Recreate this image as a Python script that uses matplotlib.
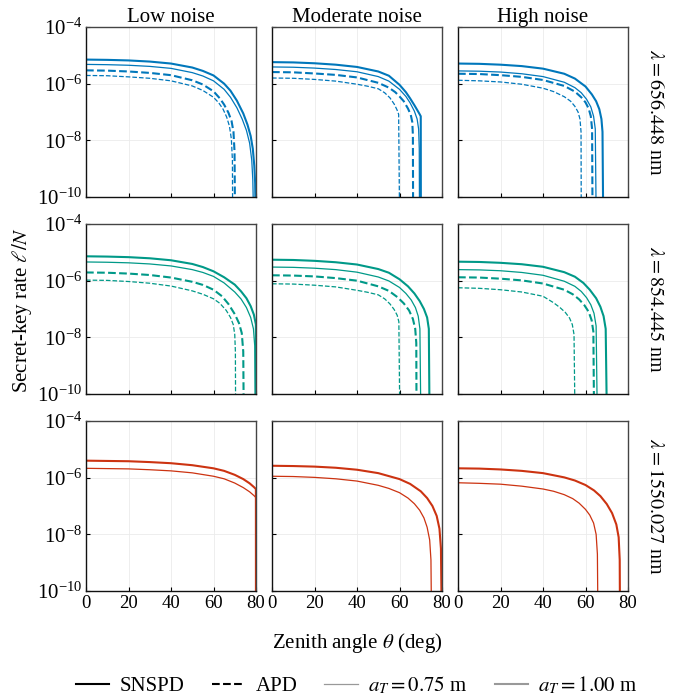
import matplotlib.pyplot as plt
from matplotlib.lines import Line2D
import numpy as np

plt.rcParams['font.family'] = ['Liberation Serif', 'DejaVu Serif']
plt.rcParams['mathtext.fontset'] = 'stix'

noise_levels = ['Low noise', 'Moderate noise', 'High noise']
wavelengths = ['656.448', '854.445', '1550.027']
colors = ['#0077BB', '#009988', '#CC3311']

# every curve: (zenith angle in deg, log10 of secret-key rate l/N)
# s = SNSPD, a = APD, 100 / 075 = telescope radius a_T

# --- 656.448 nm ---
s100_656_low = ([0, 10, 20, 30, 40, 50, 55, 60, 65, 68, 71, 74, 76, 77.5, 78.5, 79.2, 79.6, 79.8],
                [-5.15, -5.16, -5.18, -5.22, -5.29, -5.43, -5.55, -5.71, -6.00, -6.25, -6.60, -7.05, -7.45, -7.85, -8.3, -8.9, -9.5, -10.5])
s075_656_low = ([0, 10, 20, 30, 40, 50, 55, 60, 65, 68, 71, 73.5, 75.5, 77, 78, 78.5, 78.8],
                [-5.32, -5.33, -5.35, -5.39, -5.46, -5.61, -5.73, -5.90, -6.20, -6.48, -6.85, -7.25, -7.65, -8.1, -8.7, -9.4, -10.5])
a100_656_low = ([0, 10, 20, 30, 40, 50, 55, 60, 63, 65, 67, 68.5, 69.4, 69.9, 70.1],
                [-5.53, -5.54, -5.57, -5.62, -5.70, -5.88, -6.03, -6.27, -6.52, -6.74, -7.02, -7.32, -7.7, -8.4, -10.5])
a075_656_low = ([0, 10, 20, 30, 40, 50, 55, 60, 62.5, 64.5, 66.2, 67.5, 68.4, 68.9, 69.0],
                [-5.71, -5.72, -5.76, -5.81, -5.90, -6.08, -6.24, -6.48, -6.68, -6.90, -7.18, -7.50, -7.95, -8.7, -10.5])

s100_656_mod = ([0, 10, 20, 30, 40, 50, 55, 60, 63, 65, 67, 68.5, 69.5, 70.0, 70.05],
                [-5.24, -5.25, -5.28, -5.33, -5.41, -5.57, -5.72, -6.04, -6.30, -6.52, -6.76, -6.95, -7.08, -7.15, -10.5])
s075_656_mod = ([0, 10, 20, 30, 40, 50, 55, 60, 63, 65, 67, 68.3, 69.0, 69.3, 69.4],
                [-5.41, -5.42, -5.45, -5.50, -5.58, -5.75, -5.91, -6.20, -6.45, -6.68, -6.97, -7.25, -7.6, -8.3, -10.5])
a100_656_mod = ([0, 10, 20, 30, 40, 50, 55, 58, 60, 62, 64, 65.3, 66.0, 66.3, 66.4],
                [-5.59, -5.60, -5.64, -5.69, -5.78, -5.97, -6.14, -6.30, -6.45, -6.62, -6.88, -7.1, -7.35, -7.8, -10.5])
a075_656_mod = ([0, 10, 20, 30, 40, 45, 50, 53, 55.5, 57.5, 58.8, 59.6, 60.0],
                [-5.80, -5.81, -5.85, -5.91, -6.02, -6.09, -6.18, -6.32, -6.50, -6.72, -6.92, -7.08, -10.5])

s100_656_high = ([0, 10, 20, 30, 40, 50, 55, 60, 63, 65, 66.5, 67.5, 68.0, 68.3],
                 [-5.29, -5.30, -5.33, -5.38, -5.47, -5.65, -5.82, -6.10, -6.38, -6.62, -6.90, -7.25, -7.7, -10.5])
s075_656_high = ([0, 10, 20, 30, 40, 50, 55, 58, 60.5, 62.5, 63.8, 64.6, 65.0],
                 [-5.55, -5.56, -5.59, -5.65, -5.75, -5.95, -6.14, -6.32, -6.55, -6.82, -7.15, -7.6, -10.5])
a100_656_high = ([0, 10, 20, 30, 40, 50, 55, 58, 60, 61.5, 62.5, 63.1, 63.3],
                 [-5.65, -5.66, -5.70, -5.76, -5.87, -6.08, -6.28, -6.48, -6.66, -6.88, -7.15, -7.6, -10.5])
a075_656_high = ([0, 10, 20, 30, 40, 45, 50, 53, 55, 56.5, 57.4, 57.9, 58.0],
                 [-5.88, -5.90, -5.94, -6.02, -6.16, -6.28, -6.46, -6.62, -6.80, -7.0, -7.25, -7.7, -10.5])

# --- 854.445 nm ---
s100_854_low = ([0, 10, 20, 30, 40, 50, 55, 60, 65, 70, 73, 75.5, 77.5, 79, 79.95, 79.97],
                [-5.14, -5.15, -5.17, -5.21, -5.28, -5.41, -5.52, -5.67, -5.88, -6.14, -6.38, -6.62, -6.90, -7.20, -7.55, -10.5])
s075_854_low = ([0, 10, 20, 30, 40, 50, 55, 60, 65, 70, 73, 75.5, 77.5, 78.8, 79.4, 79.6],
                [-5.34, -5.35, -5.37, -5.41, -5.48, -5.61, -5.71, -5.85, -6.08, -6.40, -6.65, -6.95, -7.30, -7.70, -8.3, -10.5])
a100_854_low = ([0, 10, 20, 30, 40, 50, 55, 60, 64, 67, 70, 72, 73.3, 74.0, 74.2],
                [-5.71, -5.72, -5.75, -5.80, -5.89, -6.04, -6.15, -6.32, -6.55, -6.82, -7.18, -7.5, -7.85, -8.5, -10.5])
a075_854_low = ([0, 10, 20, 30, 40, 50, 55, 60, 63, 66, 68, 69.3, 70.0, 70.3, 70.4],
                [-5.98, -5.99, -6.03, -6.09, -6.19, -6.36, -6.48, -6.64, -6.80, -7.05, -7.30, -7.55, -7.9, -8.5, -10.5])

s100_854_mod = ([0, 10, 20, 30, 40, 50, 55, 60, 64, 67, 69.5, 71.5, 73, 73.8, 74.1],
                [-5.26, -5.27, -5.30, -5.35, -5.43, -5.59, -5.72, -5.95, -6.20, -6.45, -6.72, -7.0, -7.3, -7.7, -10.5])
s075_854_mod = ([0, 10, 20, 30, 40, 50, 55, 60, 63, 65.5, 67.5, 68.8, 69.6, 70.0],
                [-5.52, -5.53, -5.56, -5.61, -5.70, -5.87, -6.01, -6.24, -6.45, -6.68, -6.95, -7.25, -7.7, -10.5])
a100_854_mod = ([0, 10, 20, 30, 40, 50, 55, 59, 62, 64.5, 66.3, 67.4, 67.9, 68.0],
                [-5.81, -5.82, -5.85, -5.91, -6.00, -6.20, -6.36, -6.58, -6.80, -7.05, -7.35, -7.7, -8.2, -10.5])
a075_854_mod = ([0, 10, 20, 30, 40, 45, 50, 53, 55.5, 57.5, 58.9, 59.7, 60.1],
                [-6.11, -6.12, -6.16, -6.22, -6.34, -6.41, -6.50, -6.64, -6.82, -7.02, -7.22, -7.45, -10.5])

s100_854_high = ([0, 10, 20, 30, 40, 50, 55, 59, 62, 65, 67, 68.5, 69.5, 70.0],
                 [-5.33, -5.34, -5.37, -5.42, -5.51, -5.70, -5.86, -6.08, -6.32, -6.62, -6.92, -7.25, -7.7, -10.5])
s075_854_high = ([0, 10, 20, 30, 40, 50, 55, 58, 60.5, 62.5, 64, 65, 65.5],
                 [-5.61, -5.62, -5.65, -5.71, -5.81, -6.02, -6.20, -6.38, -6.60, -6.85, -7.15, -7.6, -10.5])
a100_854_high = ([0, 10, 20, 30, 40, 50, 54, 57, 59.5, 61.5, 62.9, 63.7, 64.0],
                 [-5.88, -5.89, -5.93, -5.99, -6.10, -6.32, -6.48, -6.66, -6.87, -7.1, -7.4, -7.8, -10.5])
a075_854_high = ([0, 10, 20, 30, 40, 45, 48, 50.5, 52.5, 53.8, 54.6, 55.0],
                 [-6.25, -6.27, -6.32, -6.40, -6.55, -6.78, -6.95, -7.12, -7.32, -7.55, -7.9, -10.5])

# --- 1550.027 nm (SNSPD only) ---
s100_1550_low = ([0, 10, 20, 30, 40, 50, 60, 65, 70, 74, 77, 79, 79.95, 79.97],
                 [-5.40, -5.41, -5.42, -5.45, -5.49, -5.56, -5.67, -5.76, -5.90, -6.05, -6.20, -6.33, -6.40, -10.5])
s075_1550_low = ([0, 10, 20, 30, 40, 50, 60, 65, 70, 74, 77, 79, 79.95, 79.97],
                 [-5.67, -5.68, -5.69, -5.72, -5.76, -5.83, -5.95, -6.04, -6.19, -6.35, -6.50, -6.63, -6.70, -10.5])
s100_1550_mod = ([0, 10, 20, 30, 40, 50, 60, 65, 70, 73, 75.5, 77.5, 78.8, 79.5, 79.8],
                 [-5.58, -5.59, -5.61, -5.65, -5.72, -5.84, -6.05, -6.22, -6.48, -6.72, -7.0, -7.35, -7.8, -8.5, -10.5])
s075_1550_mod = ([0, 10, 20, 30, 40, 50, 55, 60, 64, 67, 69.5, 71.5, 73, 74.2, 74.8, 75.0],
                 [-5.95, -5.96, -5.99, -6.04, -6.12, -6.27, -6.38, -6.53, -6.72, -6.92, -7.15, -7.42, -7.75, -8.2, -8.9, -10.5])
s100_1550_high = ([0, 10, 20, 30, 40, 50, 55, 60, 64, 67, 70, 72.5, 74.5, 75.6, 76.1, 76.2],
                  [-5.67, -5.68, -5.71, -5.76, -5.84, -5.99, -6.10, -6.26, -6.45, -6.65, -6.93, -7.25, -7.65, -8.1, -8.9, -10.5])
s075_1550_high = ([0, 10, 20, 30, 40, 45, 50, 54, 57, 60, 62, 63.8, 65, 65.6, 65.8],
                  [-6.18, -6.20, -6.23, -6.30, -6.40, -6.48, -6.60, -6.74, -6.90, -7.12, -7.32, -7.6, -8.0, -8.7, -10.5])

# (curve, linestyle, linewidth) per panel, row = wavelength, col = noise
SOLID, DASH = '-', '--'
THICK, THIN = 1.5, 0.9
grid = [
    [[(s100_656_low, SOLID, THICK), (s075_656_low, SOLID, THIN), (a100_656_low, DASH, THICK), (a075_656_low, DASH, THIN)],
     [(s100_656_mod, SOLID, THICK), (s075_656_mod, SOLID, THIN), (a100_656_mod, DASH, THICK), (a075_656_mod, DASH, THIN)],
     [(s100_656_high, SOLID, THICK), (s075_656_high, SOLID, THIN), (a100_656_high, DASH, THICK), (a075_656_high, DASH, THIN)]],
    [[(s100_854_low, SOLID, THICK), (s075_854_low, SOLID, THIN), (a100_854_low, DASH, THICK), (a075_854_low, DASH, THIN)],
     [(s100_854_mod, SOLID, THICK), (s075_854_mod, SOLID, THIN), (a100_854_mod, DASH, THICK), (a075_854_mod, DASH, THIN)],
     [(s100_854_high, SOLID, THICK), (s075_854_high, SOLID, THIN), (a100_854_high, DASH, THICK), (a075_854_high, DASH, THIN)]],
    [[(s100_1550_low, SOLID, THICK), (s075_1550_low, SOLID, THIN)],
     [(s100_1550_mod, SOLID, THICK), (s075_1550_mod, SOLID, THIN)],
     [(s100_1550_high, SOLID, THICK), (s075_1550_high, SOLID, THIN)]],
]

W, H = 686, 700
fig = plt.figure(figsize=(W / 100, H / 100), dpi=100)

col_left = [86, 272, 458]
row_top = [27, 224, 421]
size = 170

for r in range(3):
    for c in range(3):
        ax = fig.add_axes([col_left[c] / W, 1 - (row_top[r] + size) / H, size / W, size / H])
        for (th, lr), ls, lw in grid[r][c]:
            ax.plot(th, 10 ** np.array(lr), color=colors[r], ls=ls, lw=lw)
        ax.set_yscale('log')
        ax.set_xlim(0, 80)
        ax.set_ylim(1e-10, 1e-4)
        ax.set_xticks([0, 20, 40, 60, 80])
        ax.set_yticks([1e-10, 1e-8, 1e-6, 1e-4])
        ax.minorticks_off()
        ax.grid(True, color='#ebebeb', lw=0.6)
        ax.set_axisbelow(True)
        for s in ax.spines.values():
            s.set_color('#444444')
            s.set_linewidth(1.0)
        ax.spines['left'].set_color('#111111')
        ax.spines['bottom'].set_color('#111111')
        ax.tick_params(direction='in', length=3, width=0.8, top=False, right=False,
                       labelleft=(c == 0), labelbottom=(r == 2), pad=3)
        ax.tick_params(axis='y', labelsize=15)
        ax.tick_params(axis='x', labelsize=13.5)
        if r == 0:
            ax.set_title(noise_levels[c], fontsize=15, pad=3)
        if c == 2:
            ax.text(1.1, 0.5, r'$\lambda = %s$ nm' % wavelengths[r], transform=ax.transAxes,
                    rotation=-90, ha='left', va='center', fontsize=14.5)

fig.text(22 / W, 1 - 310 / H, r'Secret-key rate $\ell/N$', rotation=90, ha='center', va='center', fontsize=15)
fig.text(357 / W, 1 - 643 / H, r'Zenith angle $\theta$ (deg)', ha='center', va='center', fontsize=15)

handles = [Line2D([], [], color='black', lw=1.5, ls='-'),
           Line2D([], [], color='black', lw=1.5, ls='--'),
           Line2D([], [], color='#999999', lw=0.9),
           Line2D([], [], color='#999999', lw=1.5)]
labels = ['SNSPD', 'APD', r'$a_T = 0.75$ m', r'$a_T = 1.00$ m']
fig.legend(handles, labels, loc='center', bbox_to_anchor=(357 / W, 1 - 685 / H), ncol=4,
           frameon=False, fontsize=15, handlelength=1.6, handletextpad=0.5, columnspacing=1.3)

fig.savefig('out.png', dpi=100)
